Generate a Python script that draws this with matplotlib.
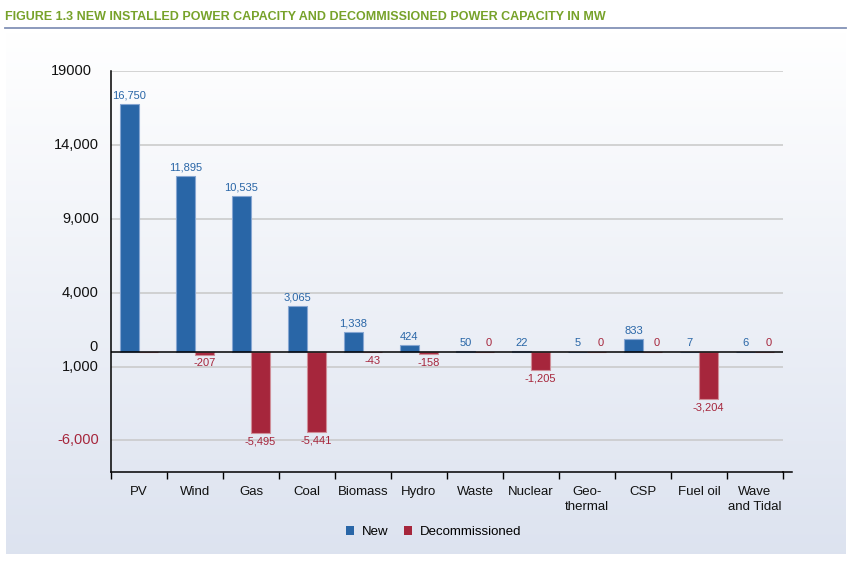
import numpy as np
import matplotlib
matplotlib.use("Agg")
import matplotlib.pyplot as plt
from matplotlib.patches import Patch
from matplotlib.lines import Line2D
import matplotlib.transforms as mtransforms

categories = ["PV", "Wind", "Gas", "Coal", "Biomass", "Hydro", "Waste", "Nuclear",
              "Geo-\nthermal", "CSP", "Fuel oil", "Wave\nand Tidal"]
new_values = [16750, 11895, 10535, 3065, 1338, 424, 50, 22, 5, 833, 7, 6]
decom_values = [None, -207, -5495, -5441, -43, -158, 0, -1205, 0, 0, -3204, 0]
ytick_values = [19000, 14000, 9000, 4000, -1000, -6000]
ytick_labels = ["19000", "14,000", "9,000", "4,000", "1,000", "-6,000"]

BLUE = "#2966a7"
RED = "#a6263c"
W, H = 859, 564

plt.rcParams['font.family'] = ['Liberation Sans', 'DejaVu Sans']

fig = plt.figure(figsize=(W / 100, H / 100), dpi=100)
fig.patch.set_facecolor("white")

# background gradient panel
bg = fig.add_axes([6 / W, (H - 554) / H, (846 - 6) / W, (554 - 32) / H], zorder=-5)
grad = np.linspace(0, 1, 256)[:, None]
top = np.array([1.0, 1.0, 1.0])
bot = np.array([0.866, 0.890, 0.940])
img = top[None, None, :] * (1 - grad[:, :, None]) + bot[None, None, :] * grad[:, :, None]
bg.imshow(img, aspect="auto", extent=[0, 1, 0, 1], origin="upper")
bg.set_axis_off()

# title
fig.text(5 / W, 1 - 17.5 / H, "FIGURE 1.3 NEW INSTALLED POWER CAPACITY AND DECOMMISSIONED POWER CAPACITY IN MW",
         fontweight="bold", fontsize=9.0, color="#77a22a", ha="left", va="center")
fig.add_artist(Line2D([5 / W, 846 / W], [1 - 27.5 / H, 1 - 27.5 / H], color="#8292b6", lw=1.3))

ax = fig.add_axes([111 / W, (H - 472) / H, (783 - 111) / W, (472 - 71) / H])
ax.set_facecolor("none")
ymin, ymax = -8140, 19000
ax.set_ylim(ymin, ymax)
ax.set_xlim(0, len(categories))

x = np.arange(len(categories)) + 0.5
bw = 0.34
ax.bar(x - bw / 2, new_values, width=bw, color=BLUE, edgecolor="#86a6d2", linewidth=0.8, zorder=3)
dv = [v if v is not None else 0 for v in decom_values]
ax.bar(x + bw / 2, dv, width=bw, color=RED, edgecolor="#cf8e98", linewidth=0.8, zorder=3)

# grid
for yv in ytick_values:
    ax.axhline(yv, color="#c8c8c8", lw=1.1, zorder=1)
ax.axhline(0, color="black", lw=1.1, zorder=4)

# labels on bars
for xi, v in zip(x, new_values):
    ax.annotate(f"{v:,}", (xi - bw / 2, v), xytext=(0, 2.5), textcoords="offset points",
                ha="center", va="bottom", fontsize=8, color=BLUE)
for xi, v in zip(x, decom_values):
    if v is None:
        continue
    if v < 0:
        ax.annotate(f"{v:,}", (xi + bw / 2, v), xytext=(0, -2.5), textcoords="offset points",
                    ha="center", va="top", fontsize=8, color=RED)
    else:
        ax.annotate(f"{v:,}", (xi + bw / 2, v), xytext=(3, 2.5), textcoords="offset points",
                    ha="center", va="bottom", fontsize=8, color=RED)

# y labels
ax.set_yticks([])
trans = mtransforms.blended_transform_factory(ax.transAxes, ax.transData)
for yv, lab in zip(ytick_values, ytick_labels):
    dx = -19 if lab == "19000" else -12
    t = trans + mtransforms.ScaledTranslation(dx / 100, 0, fig.dpi_scale_trans)
    ax.text(0, yv, lab, transform=t, ha="right", va="center", fontsize=10.5,
            color=RED if lab.startswith("-") else "#111111")
t0 = trans + mtransforms.ScaledTranslation(-13 / 100, 5 / 100, fig.dpi_scale_trans)
ax.text(0, 0, "0", transform=t0, ha="right", va="center", fontsize=10.5, color="#111111")

# x axis
ax.set_xticks(np.arange(len(categories) + 1))
ax.set_xticklabels([])
ax.tick_params(axis="x", direction="out", length=5, width=1, color="black")
for xi, lab in zip(x, categories):
    ax.annotate(lab, (xi, ymin), xytext=(0, -10), textcoords="offset points",
                ha="center", va="top", fontsize=9.5, color="#111111", linespacing=1.3,
                annotation_clip=False)

for s in ["top", "right"]:
    ax.spines[s].set_visible(False)
ax.spines["left"].set_color("black")
ax.spines["bottom"].set_color("black")
ax.spines["left"].set_linewidth(1.1)
ax.spines["bottom"].set_linewidth(1.1)
ax.plot([len(categories), len(categories) + 0.16], [ymin, ymin], color="black", lw=1.1,
        clip_on=False, zorder=5)

handles = [Patch(facecolor=BLUE, edgecolor="none", label="New"),
           Patch(facecolor=RED, edgecolor="none", label="Decommissioned")]
fig.legend(handles=handles, loc="center", bbox_to_anchor=(434 / W, 1 - 532 / H), ncol=2,
           frameon=False, fontsize=9.5, handlelength=0.6, handleheight=0.6,
           handletextpad=0.6, columnspacing=1.2)

fig.savefig("out.png", dpi=100)
